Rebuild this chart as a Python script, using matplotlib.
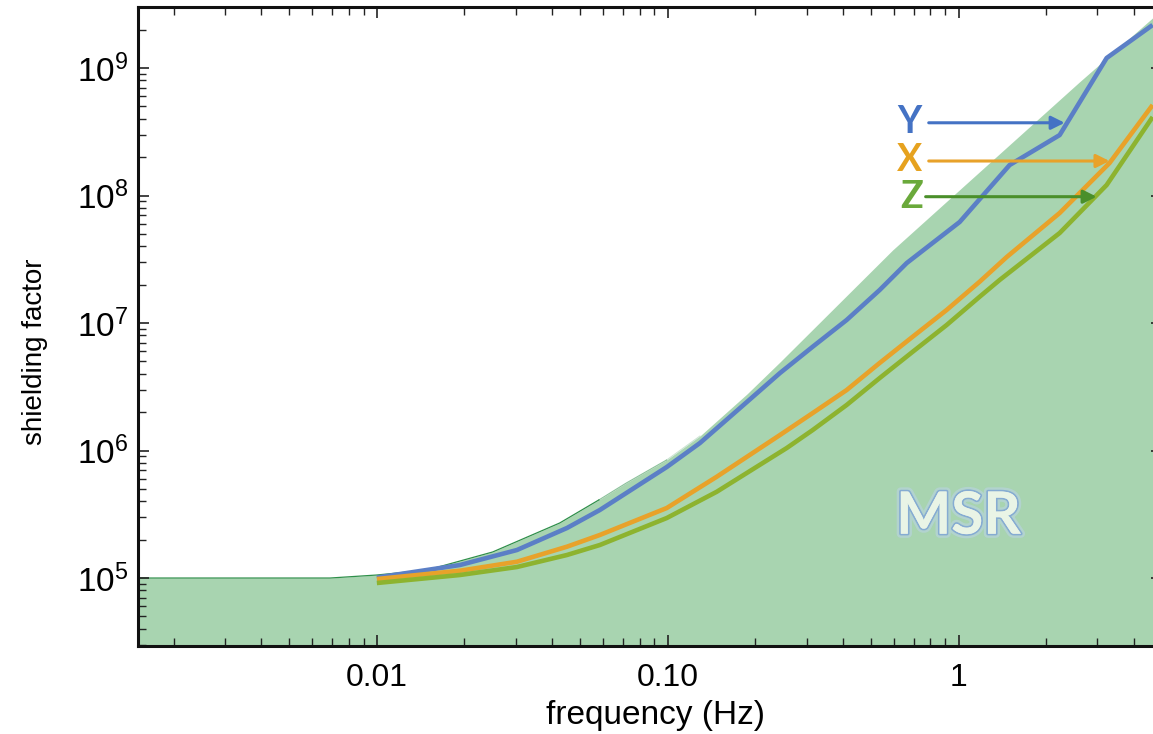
import matplotlib
matplotlib.use("Agg")
import matplotlib.pyplot as plt
import matplotlib.patheffects as pe
from matplotlib.ticker import FixedLocator, FixedFormatter, LogLocator, NullFormatter

# ---------------- data ----------------
# MSR shielding envelope (upper boundary of the green area)
msr_freq = [0.00151, 0.0069, 0.010, 0.0149, 0.025, 0.0425, 0.058, 0.072, 0.099,
            0.129, 0.187, 0.243, 0.593, 2.6, 4.64, 5.0]
msr_shield = [1.0e5, 1.0e5, 1.056e5, 1.155e5, 1.60e5, 2.70e5, 4.10e5, 5.56e5, 8.42e5,
              1.30e6, 2.77e6, 4.94e6, 3.74e7, 7.77e8, 2.47e9, 2.85e9]

# Y axis (blue)
y_freq = [0.01, 0.0193, 0.0303, 0.045, 0.0584, 0.0992, 0.129, 0.187, 0.243, 0.315,
          0.412, 0.535, 0.663, 1.008, 1.497, 2.224, 3.226, 4.642]
y_shield = [1.009e5, 1.265e5, 1.658e5, 2.466e5, 3.415e5, 7.42e5, 1.145e6, 2.40e6, 4.05e6,
            6.52e6, 1.056e7, 1.815e7, 2.955e7, 6.20e7, 1.735e8, 2.98e8, 1.198e9, 2.175e9]

# X axis (orange)
x_freq = [0.01, 0.0193, 0.0303, 0.045, 0.0584, 0.0992, 0.1474, 0.243, 0.315, 0.412,
          0.535, 0.695, 0.909, 1.181, 1.462, 2.224, 3.30, 4.642]
x_shield = [9.82e4, 1.141e5, 1.342e5, 1.76e5, 2.175e5, 3.54e5, 6.23e5, 1.323e6, 1.968e6,
            2.98e6, 4.86e6, 7.81e6, 1.265e7, 2.11e7, 3.29e7, 7.29e7, 1.798e8, 5.13e8]

# Z axis (green)
z_freq = [0.01, 0.0193, 0.0303, 0.045, 0.0584, 0.0992, 0.1474, 0.2564, 0.315, 0.412,
          0.535, 0.695, 0.909, 1.181, 1.383, 2.224, 3.226, 4.642]
z_shield = [9.14e4, 1.056e5, 1.22e5, 1.515e5, 1.815e5, 2.955e5, 4.75e5, 1.046e6, 1.448e6,
            2.275e6, 3.70e6, 5.95e6, 9.64e6, 1.608e7, 2.175e7, 5.08e7, 1.209e8, 4.13e8]

# axis labels / ticks
x_tick_values = [0.01, 0.1, 1]
x_tick_labels = ["0.01", "0.10", "1"]
x_label = "frequency (Hz)"
y_label = "shielding factor"

# series labels with arrow (label position, arrow start, arrow tip)
series_names = ["Y", "X", "Z"]
label_pos = [(0.679, 3.77e8), (0.679, 1.90e8), (0.689, 9.73e7)]
arrow_start = [(0.789, 3.72e8), (0.789, 1.865e8), (0.770, 9.79e7)]
arrow_tip = [(2.314, 3.72e8), (3.30, 1.865e8), (2.98, 9.79e7)]

# ---------------- style ----------------
plt.rcParams['font.family'] = ['Liberation Sans', 'DejaVu Sans']
plt.rcParams['mathtext.fontset'] = 'custom'
plt.rcParams['mathtext.rm'] = 'Liberation Sans'
plt.rcParams['mathtext.default'] = 'regular'

fill_color = '#a8d4b0'
edge_color = '#2f8f4a'
line_colors = {'Y': '#5b7fc6', 'X': '#e8a22a', 'Z': '#8db32f'}
text_colors = {'Y': '#4472c4', 'X': '#e6a21f', 'Z': '#6aa93b'}
arrow_colors = {'Y': '#4472c4', 'X': '#e8a22a', 'Z': '#4a8f2a'}

fig = plt.figure(figsize=(11.53, 7.34), dpi=100)
ax = fig.add_axes([0.11969, 0.11989, 0.88812, 0.87057])
ax.set_xscale('log')
ax.set_yscale('log')

# MSR area
ax.fill_between(msr_freq, msr_shield, 1e4, color=fill_color, linewidth=0, zorder=1)
# thin darker edge along the lower part of the envelope, fading out
ax.plot(msr_freq[:7], msr_shield[:7], color=edge_color, lw=0.9, zorder=1.2)
ax.plot(msr_freq[6:9], msr_shield[6:9], color=edge_color, lw=0.8, alpha=0.55, zorder=1.2)
ax.plot(msr_freq[8:10], msr_shield[8:10], color=edge_color, lw=0.7, alpha=0.25, zorder=1.2)

# curves
for fr, sh, key in [(y_freq, y_shield, 'Y'), (x_freq, x_shield, 'X'), (z_freq, z_shield, 'Z')]:
    ax.plot(fr, sh, color=line_colors[key], lw=3.3, zorder=3,
            solid_joinstyle='round', solid_capstyle='butt')

# labels with arrows
for name, lp, a0, a1 in zip(series_names, label_pos, arrow_start, arrow_tip):
    ax.text(lp[0], lp[1], name, color=text_colors[name], fontsize=27, fontweight='bold',
            family=['Lato', 'DejaVu Sans'], ha='center', va='center', zorder=5)
    ax.annotate('', xy=a1, xytext=a0,
                arrowprops=dict(arrowstyle='-|>', lw=2.2, color=arrow_colors[name],
                                mutation_scale=20, shrinkA=0, shrinkB=0), zorder=5)

# MSR label
ax.text(1.0, 3.0e5, "MSR", fontsize=42, fontweight='bold', color='#e9f4e6',
        family=['Lato', 'DejaVu Sans'], ha='center', va='center', zorder=4,
        path_effects=[pe.withStroke(linewidth=6, foreground='#b9d3e3', alpha=0.6),
                      pe.withStroke(linewidth=2.5, foreground='#86acd2'),
                      pe.Normal()])

# axes
ax.set_xlim(0.00151, 5.0)
ax.set_ylim(2.93e4, 3.01e9)

ax.xaxis.set_major_locator(FixedLocator(x_tick_values))
ax.xaxis.set_major_formatter(FixedFormatter(x_tick_labels))
ax.xaxis.set_minor_locator(LogLocator(base=10, subs=range(2, 10)))
ax.xaxis.set_minor_formatter(NullFormatter())
ax.yaxis.set_minor_locator(LogLocator(base=10, subs=range(2, 10)))
ax.yaxis.set_minor_formatter(NullFormatter())

ax.tick_params(which='both', direction='in', top=True, right=True, color='#222222')
ax.tick_params(which='major', length=8, width=1.2)
ax.tick_params(which='minor', length=6, width=1.0)
ax.tick_params(axis='x', which='major', labelsize=23, pad=12)
ax.tick_params(axis='y', which='major', labelsize=24, pad=7)

for side in ['left', 'bottom', 'top', 'right']:
    ax.spines[side].set_linewidth(2.2)
    ax.spines[side].set_color('#111111')

ax.set_xlabel(x_label, fontsize=24)
ax.set_ylabel(y_label, fontsize=20)
ax.xaxis.set_label_coords(0.505, -0.084, transform=ax.transAxes)
ax.yaxis.set_label_coords(-0.0879, 0.46, transform=ax.transAxes)

fig.savefig('out.png', dpi=100)
